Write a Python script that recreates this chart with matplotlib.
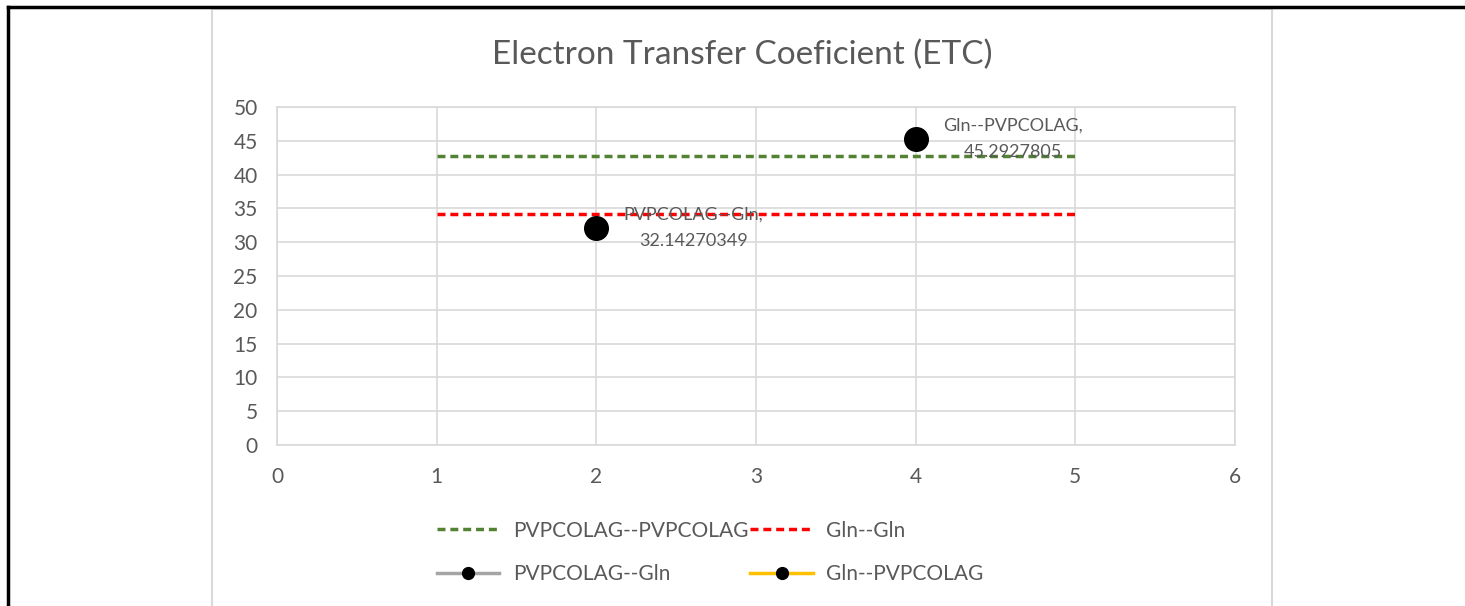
import matplotlib.pyplot as plt
from matplotlib.patches import Rectangle
from matplotlib.lines import Line2D

# data
line_x = [1, 5]
pvp_pvp = [42.75, 42.75]
gln_gln = [34.15, 34.15]
pvp_gln_x = [2]
pvp_gln_y = [32.14270349]
gln_pvp_x = [4]
gln_pvp_y = [45.2927805]
x_ticks = [0, 1, 2, 3, 4, 5, 6]
y_ticks = [0, 5, 10, 15, 20, 25, 30, 35, 40, 45, 50]

plt.rcParams['font.family'] = ['Lato', 'DejaVu Sans']
txt = '#595959'

fig = plt.figure(figsize=(14.65, 6.06), dpi=100)
fig.patch.set_facecolor('white')

# outer black frame (left and top visible) and the chart box
fig.add_artist(Line2D([8/1465, 8/1465], [0, 1 - 7/606], color='black', lw=2.5, transform=fig.transFigure))
fig.add_artist(Line2D([8/1465, 1], [1 - 7/606, 1 - 7/606], color='black', lw=2.5, transform=fig.transFigure))
fig.add_artist(Rectangle((212/1465, -0.05), (1272 - 212)/1465, 1.05 - 9/606, transform=fig.transFigure,
                         fill=False, edgecolor='#d9d9d9', lw=1.5))

ax = fig.add_axes([277/1465, 1 - 445/606, (1235 - 277)/1465, (445 - 107)/606])

dash = (0, (2.3, 1.4))
ax.plot(line_x, pvp_pvp, color='#548235', lw=2.5, ls=dash, label='PVPCOLAG--PVPCOLAG', zorder=3)
ax.plot(line_x, gln_gln, color='#ff0000', lw=2.5, ls=dash, label='Gln--Gln', zorder=3)
ax.plot(pvp_gln_x, pvp_gln_y, color='#a5a5a5', lw=2.5, marker='o', ms=17, mfc='black', mec='black',
        label='PVPCOLAG--Gln', zorder=4)
ax.plot(gln_pvp_x, gln_pvp_y, color='#ffc000', lw=2.5, marker='o', ms=17, mfc='black', mec='black',
        label='Gln--PVPCOLAG', zorder=4)

# data labels
ax.annotate('PVPCOLAG--Gln,\n32.14270349', (pvp_gln_x[0], pvp_gln_y[0]), xytext=(70, 0),
            textcoords='offset points', ha='center', va='center', multialignment='center',
            fontsize=13, color=txt, linespacing=1.85, zorder=5)
ax.annotate('Gln--PVPCOLAG,\n45.2927805', (gln_pvp_x[0], gln_pvp_y[0]), xytext=(70, 0),
            textcoords='offset points', ha='center', va='center', multialignment='center',
            fontsize=13, color=txt, linespacing=1.85, zorder=5)

ax.set_xlim(0, 6)
ax.set_ylim(0, 50)
ax.set_xticks(x_ticks)
ax.set_yticks(y_ticks)
ax.grid(True, color='#d9d9d9', lw=1.2)
ax.set_axisbelow(True)
for s in ax.spines.values():
    s.set_color('#d9d9d9')
    s.set_linewidth(1.2)
ax.tick_params(length=0, colors=txt, labelsize=15)
ax.tick_params(axis='x', pad=16)
ax.tick_params(axis='y', pad=14)

# title is centred on the chart box, not the plot area
fig.text(742/1465, 1 - 55/606, 'Electron Transfer Coeficient (ETC)', fontsize=24, color=txt,
         ha='center', va='center')

h, l = ax.get_legend_handles_labels()
order = [0, 2, 1, 3]
leg = fig.legend([h[i] for i in order], [l[i] for i in order], ncol=2, loc='upper left',
                 bbox_to_anchor=(418/1465, 1 - 502/606), frameon=False, fontsize=15,
                 handlelength=3.0, handletextpad=0.65, columnspacing=0.1, labelspacing=1.12,
                 markerscale=0.5, labelcolor=txt)

plt.savefig('out.png', dpi=100, facecolor=fig.get_facecolor())
